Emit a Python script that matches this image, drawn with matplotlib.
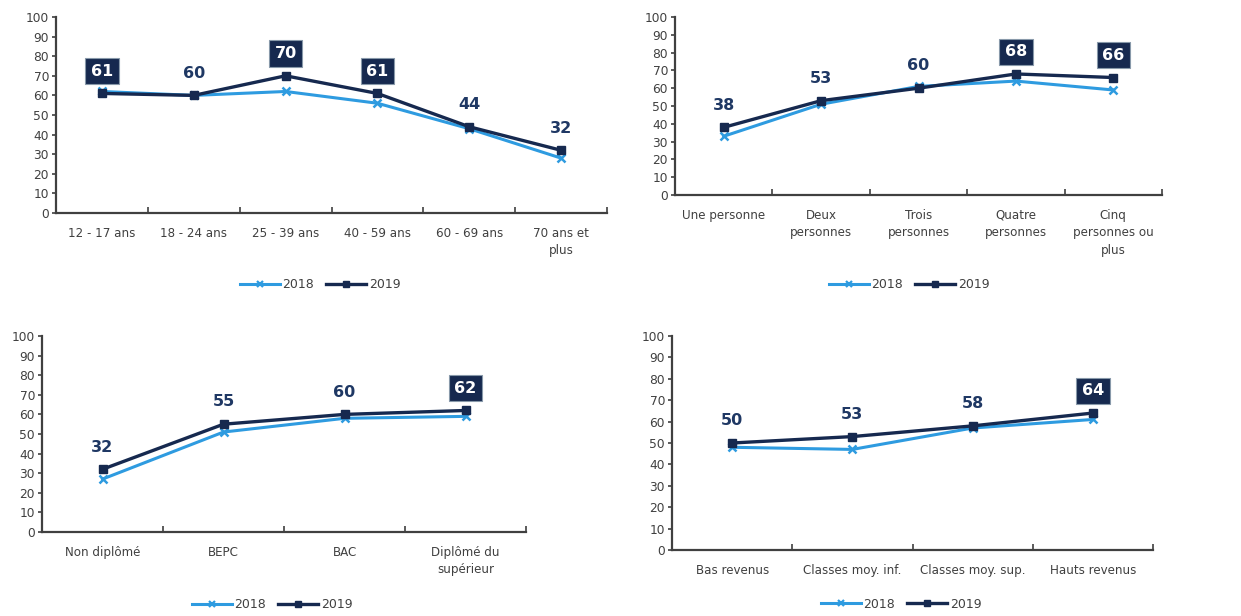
import numpy as np
import matplotlib.pyplot as plt
from matplotlib.lines import Line2D

# ---------------------------------------------------------
# Data
# ---------------------------------------------------------
age_labels = ["12 - 17 ans", "18 - 24 ans", "25 - 39 ans", "40 - 59 ans",
              "60 - 69 ans", "70 ans et\nplus"]
age_2018 = [62, 60, 62, 56, 43, 28]
age_2019 = [61, 60, 70, 61, 44, 32]
age_boxed = [True, False, True, True, False, False]

foyer_labels = ["Une personne", "Deux\npersonnes", "Trois\npersonnes",
                "Quatre\npersonnes", "Cinq\npersonnes ou\nplus"]
foyer_2018 = [33, 51, 61, 64, 59]
foyer_2019 = [38, 53, 60, 68, 66]
foyer_boxed = [False, False, False, True, True]

diplome_labels = ["Non diplômé", "BEPC", "BAC", "Diplômé du\nsupérieur"]
diplome_2018 = [27, 51, 58, 59]
diplome_2019 = [32, 55, 60, 62]
diplome_boxed = [False, False, False, True]

revenu_labels = ["Bas revenus", "Classes moy. inf.", "Classes moy. sup.",
                 "Hauts revenus"]
revenu_2018 = [48, 47, 57, 61]
revenu_2019 = [50, 53, 58, 64]
revenu_boxed = [False, False, False, True]

LIGHT = "#2E9BE0"
NAVY = "#16294F"
GREY = "#404040"
W, H = 1241, 616


def px_rect(left, right, top, bottom):
    return [left / W, 1 - bottom / H, (right - left) / W, (bottom - top) / H]


def draw_panel(fig, rect, labels, v18, v19, boxed):
    ax = fig.add_axes(rect)
    x = np.arange(len(labels))
    ax.plot(x, v18, color=LIGHT, lw=2.2, marker="x", ms=6, mew=1.8)
    ax.plot(x, v19, color=NAVY, lw=2.4, marker="s", ms=5.5)

    ax.set_xlim(-0.5, len(labels) - 0.5)
    ax.set_ylim(0, 100)
    ax.set_yticks(range(0, 101, 10))
    ax.set_xticks(x)
    ax.set_xticklabels(labels, fontsize=8.6, color=GREY, linespacing=1.45)
    ax.set_xticks(np.arange(0.5, len(labels) - 0.4, 1), minor=True)
    ax.tick_params(axis="x", which="major", length=0, pad=10)
    ax.tick_params(axis="x", which="minor", length=4, direction="in",
                   color=GREY, width=1.2)
    ax.tick_params(axis="y", length=3, width=1.2, color=GREY,
                   labelsize=8.8, labelcolor=GREY, pad=2)
    for s in ["top", "right"]:
        ax.spines[s].set_visible(False)
    for s in ["left", "bottom"]:
        ax.spines[s].set_color(GREY)
        ax.spines[s].set_linewidth(1.6)

    for xi, val, box in zip(x, v19, boxed):
        if box:
            ax.annotate(str(val), (xi, val), xytext=(0, 16),
                        textcoords="offset points", ha="center", va="center",
                        fontsize=11.5, fontweight="bold", color="white",
                        bbox=dict(boxstyle="square,pad=0.35", fc=NAVY,
                                  ec="#8899AA", lw=0.8))
        else:
            ax.annotate(str(val), (xi, val), xytext=(0, 16),
                        textcoords="offset points", ha="center", va="center",
                        fontsize=11.5, fontweight="bold", color="#1F3864")
    return ax


def add_legend(fig, cx, cy):
    handles = [
        Line2D([], [], color=LIGHT, lw=2.2, marker="x", ms=5, mew=1.6),
        Line2D([], [], color=NAVY, lw=2.4, marker="s", ms=4.5),
    ]
    fig.legend(handles, ["2018", "2019"], loc="center",
               bbox_to_anchor=(cx / W, 1 - cy / H), ncol=2, frameon=False,
               fontsize=9, handlelength=3.2, handletextpad=0.2,
               columnspacing=1.0, labelcolor=GREY)


fig = plt.figure(figsize=(W / 100, H / 100), dpi=100)
plt.rcParams["font.family"] = ["DejaVu Sans"]

draw_panel(fig, px_rect(56, 607, 17, 213), age_labels, age_2018, age_2019, age_boxed)
draw_panel(fig, px_rect(675, 1162, 17, 195), foyer_labels, foyer_2018, foyer_2019, foyer_boxed)
draw_panel(fig, px_rect(42, 526, 336, 532), diplome_labels, diplome_2018, diplome_2019, diplome_boxed)
draw_panel(fig, px_rect(672, 1153, 336, 550), revenu_labels, revenu_2018, revenu_2019, revenu_boxed)

add_legend(fig, 320, 285)
add_legend(fig, 909, 285)
add_legend(fig, 272, 605)
add_legend(fig, 901, 604)

fig.savefig("out.png", dpi=100)
